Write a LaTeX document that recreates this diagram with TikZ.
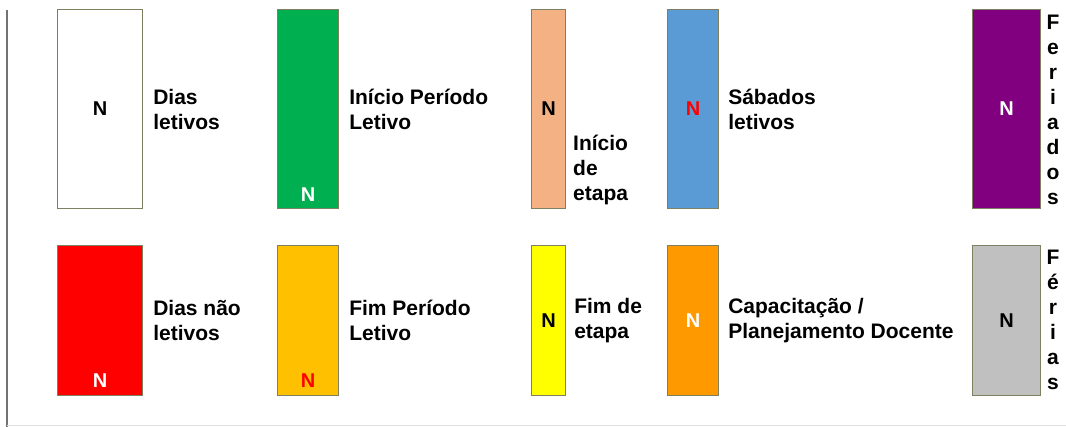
\documentclass[tikz,border=0pt]{standalone}
\usepackage{fontspec}
\setmainfont{Liberation Sans}
\usepackage{tikz}
\usetikzlibrary{positioning}

\definecolor{boxline}{HTML}{7F7F62}
\definecolor{inigreen}{HTML}{00B050}
\definecolor{peach}{HTML}{F4B183}
\definecolor{satblue}{HTML}{5B9BD5}
\definecolor{feriado}{HTML}{800080}
\definecolor{redbox}{HTML}{FF0000}
\definecolor{fimorange}{HTML}{FFC000}
\definecolor{yellowbox}{HTML}{FFFF00}
\definecolor{capaorange}{HTML}{FF9900}
\definecolor{feriasgray}{HTML}{C0C0C0}

\begin{document}
\begin{tikzpicture}[x=1pt,y=-1pt,
    box/.style={draw=boxline, line width=1.1pt, inner sep=0pt, anchor=north west},
    tall/.style={box, minimum height=199pt},
    short/.style={box, minimum height=150pt},
    letter/.style={font=\fontsize{20}{20}\bfseries\selectfont, inner sep=0pt},
    caption/.style={font=\fontsize{21}{25}\bfseries\selectfont, align=left, inner sep=0pt, anchor=west}]

     \useasboundingbox (0,0) rectangle (1066,427);

     % Frame
     \draw[black!55, line width=1.6pt] (7,10) -- (7,427);
     \draw[black!12, line width=0.6pt] (7,425) -- (1066,425);

     % Define nodes
     \node[tall, fill=white, minimum width=85pt]      (dl)  at (57,9)   {};
     \node[tall, fill=inigreen, minimum width=61pt]   (ipl) at (277,9)  {};
     \node[tall, fill=peach, minimum width=34pt]      (ie)  at (531,9)  {};
     \node[tall, fill=satblue, minimum width=51pt]    (sl)  at (667,9)  {};
     \node[tall, fill=feriado, minimum width=68pt]    (fer) at (972,9)  {};
     \node[short, fill=redbox, minimum width=85pt]    (dnl) at (57,245) {};
     \node[short, fill=fimorange, minimum width=61pt] (fpl) at (277,245) {};
     \node[short, fill=yellowbox, minimum width=34pt] (fe)  at (531,245) {};
     \node[short, fill=capaorange, minimum width=51pt] (cpd) at (667,245) {};
     \node[short, fill=feriasgray, minimum width=68pt] (fri) at (972,245) {};

     % Day markers
     \node[letter]                                      (dlN)  at (dl.center)  {N};
     \node[letter, white] (iplN) at ([yshift=14pt]ipl.south) {N};
     \node[letter]                                      (ieN)  at (ie.center)  {N};
     \node[letter, redbox]                              (slN)  at (sl.center)  {N};
     \node[letter, white]                               (ferN) at (fer.center) {N};
     \node[letter, white] (dnlN) at ([yshift=15pt]dnl.south) {N};
     \node[letter, redbox] (fplN) at ([yshift=15pt]fpl.south) {N};
     \node[letter]                                      (feN)  at (fe.center)  {N};
     \node[letter, white]                               (cpdN) at (cpd.center) {N};
     \node[letter]                                      (friN) at (fri.center) {N};

     % Captions
     \node[caption, right=10pt of dl]  (dltext)  {Dias\\letivos};
     \node[caption, right=10pt of ipl] (ipltext) {Início Período\\Letivo};
     \node[caption]                    (ietext) at (573,170) {Início\\de\\etapa};
     \node[caption, right=9pt of sl]   (sltext)  {Sábados\\letivos};
     \node[caption, align=center, anchor=center] (fertext) at (1053,110) {F\\e\\r\\i\\a\\d\\o\\s};
     \node[caption, right=10pt of dnl] (dnltext) {Dias não\\letivos};
     \node[caption, right=10pt of fpl] (fpltext) {Fim Período\\Letivo};
     \node[caption, right=8pt of fe]   (fetext)  {Fim de\\etapa};
     \node[caption, right=9pt of cpd]  (cpdtext) {Capacitação /\\Planejamento Docente};
     \node[caption, align=center, anchor=center] (fritext) at (1053,320) {F\\é\\r\\i\\a\\s};

\end{tikzpicture}
\end{document}
